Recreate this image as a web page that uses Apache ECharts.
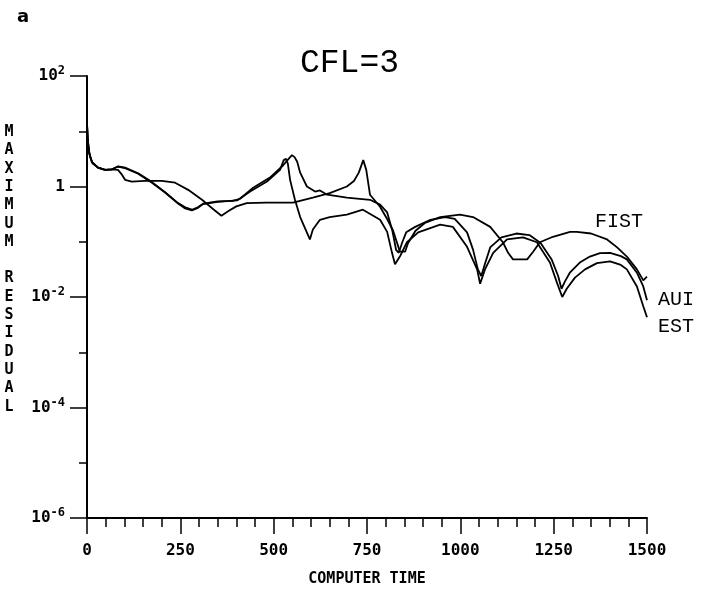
<!DOCTYPE html>
<html>
<head>
<meta charset="utf-8">
<script src="https://cdn.jsdelivr.net/npm/echarts@6/dist/echarts.min.js"></script>
<style>
  html, body { margin: 0; padding: 0; background: #fff; }
  #chart { width: 704px; height: 592px; }
</style>
</head>
<body>
<div id="chart"></div>
<script>
// computer time / maximum residual
const fistT = [0, 3, 8, 15, 30, 50, 67, 83, 94, 102, 120, 155, 200, 236, 271, 308, 340, 360, 380, 400,
  428, 480, 552, 605, 650, 696, 715, 728, 740, 748, 758, 785, 805, 820, 832, 838, 852, 860, 880, 905,
  946, 999, 1034, 1080, 1114, 1128, 1141, 1179, 1195, 1213, 1248, 1294, 1312, 1350, 1393, 1420, 1446, 1473, 1490, 1494, 1500];
const fistV = [12.6, 5.6, 3.5, 2.6, 2.2, 2.0, 2.05, 2.0, 1.62, 1.32, 1.23, 1.26, 1.26, 1.17, 0.87, 0.575, 0.38, 0.295, 0.363, 0.437,
  0.50, 0.51, 0.51, 0.63, 0.76, 1.0, 1.26, 1.78, 3.0, 2.0, 0.71, 0.43, 0.25, 0.158, 0.089, 0.066, 0.066, 0.095, 0.158, 0.219,
  0.28, 0.31, 0.28, 0.186, 0.098, 0.063, 0.048, 0.048, 0.066, 0.098, 0.123, 0.151, 0.151, 0.141, 0.11, 0.079, 0.054, 0.0316, 0.020, 0.019, 0.0234];

const auiT = [0, 2, 6, 13, 29, 48, 67, 83, 102, 137, 174, 209, 244, 263, 281, 297, 311, 350, 390, 410,
  445, 490, 525, 540, 549, 556, 563, 571, 589, 611, 624, 643, 696, 758, 785, 804, 818, 828, 835, 845,
  855, 879, 920, 959, 985, 1018, 1034, 1047, 1056, 1066, 1080, 1110, 1150, 1185, 1215, 1245, 1262, 1271, 1280, 1294,
  1320, 1347, 1374, 1401, 1430, 1446, 1473, 1490, 1500];
const auiV = [14.1, 7.1, 4.0, 2.8, 2.2, 2.0, 2.05, 2.3, 2.2, 1.74, 1.2, 0.79, 0.50, 0.42, 0.38, 0.42, 0.49, 0.54, 0.55, 0.60,
  0.95, 1.45, 2.4, 3.16, 3.7, 3.4, 2.8, 1.78, 1.0, 0.81, 0.85, 0.71, 0.63, 0.575, 0.47, 0.34, 0.158, 0.071, 0.063, 0.10,
  0.148, 0.186, 0.25, 0.28, 0.26, 0.148, 0.072, 0.0316, 0.024, 0.040, 0.079, 0.12, 0.141, 0.132, 0.095, 0.047, 0.024, 0.0141, 0.019, 0.028,
  0.042, 0.054, 0.062, 0.063, 0.055, 0.048, 0.0275, 0.0155, 0.0087];

const estT = [0, 2, 6, 13, 29, 48, 67, 83, 102, 137, 174, 209, 244, 263, 281, 297, 311, 350, 402, 437,
  482, 517, 527, 533, 538, 544, 557, 571, 597, 605, 624, 650, 696, 739, 785, 804, 817, 825, 838, 857,
  887, 946, 980, 1018, 1045, 1053, 1066, 1088, 1125, 1168, 1205, 1240, 1259, 1273, 1285, 1307, 1334, 1366, 1401, 1430,
  1446, 1473, 1490, 1500];
const estV = [14.1, 7.1, 4.0, 2.8, 2.2, 2.0, 2.05, 2.3, 2.14, 1.7, 1.17, 0.78, 0.49, 0.40, 0.37, 0.41, 0.48, 0.525, 0.56, 0.81,
  1.23, 2.0, 3.0, 3.16, 2.6, 1.32, 0.575, 0.28, 0.11, 0.166, 0.25, 0.28, 0.31, 0.38, 0.25, 0.151, 0.063, 0.039, 0.054, 0.098,
  0.148, 0.204, 0.186, 0.081, 0.0316, 0.0174, 0.0316, 0.063, 0.11, 0.12, 0.098, 0.042, 0.018, 0.010, 0.0141, 0.0224, 0.0316, 0.041, 0.044, 0.038,
  0.0316, 0.0155, 0.0068, 0.0043];

const xTicks = [0, 250, 500, 750, 1000, 1250, 1500];
const yLabelExps = [2, 0, -2, -4, -6];

function pairs(t, v) {
    return t.map(function (x, i) { return [x, v[i]]; });
}

let mono = '"DejaVu Sans Mono", "Liberation Mono", monospace';

function line(name, t, v, off) {
    return {
        name: name,
        type: 'line',
        data: pairs(t, v),
        showSymbol: false,
        symbol: 'none',
        lineStyle: { color: '#000', width: 1.8 },
        itemStyle: { color: '#000' },
        endLabel: {
            show: true,
            formatter: '{a}',
            color: '#000',
            fontFamily: '"Liberation Mono", monospace',
            fontSize: 20,
            distance: 0,
            align: 'left',
            verticalAlign: 'middle',
            offset: off
        }
    };
}

let option = {
    animation: false,
    backgroundColor: '#fff',
    title: [
        { text: 'a', left: 12, top: 3, textStyle: { fontFamily: '"DejaVu Sans", sans-serif', fontWeight: 'bold', fontSize: 18, color: '#000' } },
        { text: 'CFL=3', left: 295, top: 42, textStyle: { fontFamily: '"Liberation Mono", monospace', fontWeight: 'normal', fontSize: 33, color: '#000' } }
    ],
    graphic: [{
        type: 'text',
        style: {
            x: 9, y: 123,
            text: 'M\nA\nX\nI\nM\nU\nM\n\nR\nE\nS\nI\nD\nU\nA\nL',
            font: 'bold 15px ' + mono,
            lineHeight: 18.3,
            align: 'center',
            verticalAlign: 'top',
            fill: '#000'
        }
    }],
    grid: { left: 87, right: 57, top: 76, bottom: 74, containLabel: false, outerBoundsMode: 'none' },
    xAxis: {
        type: 'value',
        min: xTicks[0],
        max: xTicks[xTicks.length - 1],
        interval: 250,
        name: 'COMPUTER TIME',
        nameLocation: 'middle',
        nameGap: 54,
        nameTextStyle: { fontFamily: mono, fontWeight: 'bold', fontSize: 15, color: '#000' },
        axisLine: { show: true, lineStyle: { color: '#000', width: 2 } },
        axisTick: { show: true, length: 16, lineStyle: { color: '#000', width: 1.5 } },
        minorTick: { show: true, splitNumber: 5, length: 9, lineStyle: { color: '#000', width: 1.5 } },
        axisLabel: {
            margin: 25, fontFamily: mono, fontWeight: 'bold', fontSize: 16, color: '#000',
            formatter: function (v) { return String(v); }
        },
        splitLine: { show: false },
        minorSplitLine: { show: false }
    },
    yAxis: [
        {
            type: 'log',
            position: 'left',
            logBase: 10,
            min: 1e-6,
            max: 1e2,
            splitNumber: 8,
            axisLine: { show: true, lineStyle: { color: '#000', width: 2 } },
            axisTick: { show: true, length: 8, lineStyle: { color: '#000', width: 1.5 } },
            axisLabel: { show: false },
            splitLine: { show: false }
        },
        {
            type: 'log',
            position: 'left',
            offset: 0,
            logBase: 10,
            min: 1e-6,
            max: 1e2,
            interval: 2,
            axisLine: { show: false },
            axisTick: { show: true, length: 17, lineStyle: { color: '#000', width: 1.5 } },
            axisLabel: {
                margin: 22,
                fontFamily: mono,
                fontWeight: 'bold',
                fontSize: 16,
                color: '#000',
                formatter: function (v) {
                    let e = Math.round(Math.log10(v));
                    if (yLabelExps.indexOf(e) < 0) return '';
                    if (e === 0) return '1';
                    return '10{sup|' + e + '}';
                },
                rich: {
                    sup: { fontFamily: mono, fontWeight: 'bold', fontSize: 12, color: '#000', verticalAlign: 'top', padding: [0, 0, 10, 0] }
                }
            },
            splitLine: { show: false }
        }
    ],
    series: [
        line('FIST', fistT, fistV, [-52, -55]),
        line('AUI', auiT, auiV, [11, -1]),
        line('EST', estT, estV, [11, 9])
    ]
};

let myChart = echarts.init(document.getElementById('chart'));
myChart && myChart.setOption(option);
</script>
</body>
</html>
